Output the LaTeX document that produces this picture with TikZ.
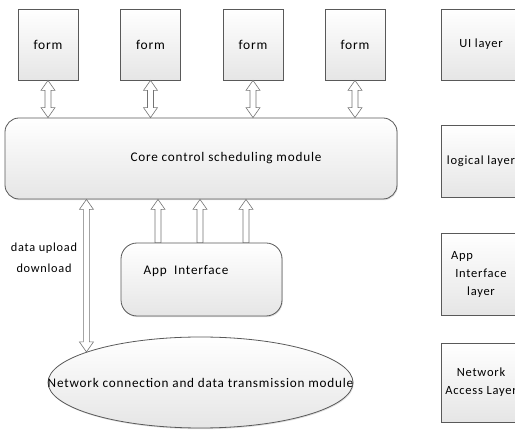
\documentclass[tikz,border=0pt]{standalone}
\usepackage{fontspec}
\setmainfont[LetterSpace=6]{Carlito}
\usetikzlibrary{shapes.geometric,shadows,calc}

\newcommand\dblarr[2]{%
  \draw[harrow] let \p1=(#1), \p2=(#2) in
    (\x1,\y1) -- (\x1+7pt,\y1-10pt) -- (\x1+3pt,\y1-10pt) -- (\x1+3pt,\y2+10pt)
    -- (\x1+7pt,\y2+10pt) -- (\x1,\y2) -- (\x1-7pt,\y2+10pt) -- (\x1-3pt,\y2+10pt)
    -- (\x1-3pt,\y1-10pt) -- (\x1-7pt,\y1-10pt) -- cycle;}
\newcommand\uparr[2]{%
  \draw[harrow] let \p1=(#1), \p2=(#2) in
    (\x1,\y2) -- (\x1+7pt,\y2-10pt) -- (\x1+3pt,\y2-10pt) -- (\x1+3pt,\y1)
    -- (\x1-3pt,\y1) -- (\x1-3pt,\y2-10pt) -- (\x1-7pt,\y2-10pt) -- cycle;}

\tikzset{
  box/.style={draw=black!65, line width=0.8pt, top color=white, bottom color=black!10,
    drop shadow={shadow xshift=0.8pt, shadow yshift=-1.2pt, opacity=0.25},
    inner sep=0pt, font=\fontsize{13.2}{15}\selectfont},
  layerbox/.style={box, minimum width=80pt, align=center, font=\fontsize{12.5}{18}\selectfont},
  formbox/.style={box, minimum width=60pt, minimum height=71pt, font=\fontsize{13.5}{15}\selectfont},
  harrow/.style={draw=black!55, fill=white, line width=0.6pt},
  txt/.style={font=\fontsize{13.2}{15}\selectfont, inner sep=0pt},
}

\begin{document}
\begin{tikzpicture}[x=1pt, y=-1pt]
\useasboundingbox (0,0) rectangle (515,430);
\clip (0,0) rectangle (515,430);

% forms
\node[formbox] (f1) at (48,44.5) {form};
\node[formbox] (f2) at (150.5,44.5) {form};
\node[formbox] (f3) at (253,44.5) {form};
\node[formbox] (f4) at (355,44.5) {form};

% core
\node[box, rounded corners=14pt, minimum width=392pt, minimum height=81pt] (core) at (201,158.5)
  {\hspace*{50pt}Core control scheduling module};

% app interface
\node[box, rounded corners=16pt, minimum width=161pt, minimum height=73pt,
  label={[txt, xshift=-15.5pt, yshift=8.5pt]center:App\ \ Interface}] (app) at (201.5,279.5) {};

% network ellipse
\node[box, ellipse, minimum width=305pt, minimum height=91pt,
  label={[txt]center:Network connection and data transmission module}] (net) at (200.5,382.5) {};

% data label
\node[align=center, font=\fontsize{12.3}{21}\selectfont, inner sep=0pt] (dl) at (44,258) {data upload\\download};

% layers
\node[layerbox, minimum height=71pt] (ui) at (481,44.5) {UI layer};
\node[layerbox, minimum height=72pt] (lg) at (481,161) {logical layer};
\node[layerbox, minimum height=82pt] (ail) at (481,274) {App\hspace*{38pt}\\Interface\\layer};
\node[layerbox, minimum height=79pt] (nal) at (481,382.5) {Network\\Access Layer};

% form arrows
\dblarr{f1.south}{f1.south |- core.north}
\dblarr{f2.south}{f2.south |- core.north}
\dblarr{f3.south}{f3.south |- core.north}
\dblarr{f4.south}{f4.south |- core.north}

% app up arrows
\coordinate (u1) at ([xshift=-43.5pt]app.north);
\coordinate (u2) at ([xshift=-1.5pt]app.north);
\coordinate (u3) at ([xshift=44.5pt]app.north);
\uparr{u1}{u1 |- core.south}
\uparr{u2}{u2 |- core.south}
\uparr{u3}{u3 |- core.south}

% data arrow
\dblarr{net.165 |- core.south}{net.165}
\end{tikzpicture}
\end{document}
